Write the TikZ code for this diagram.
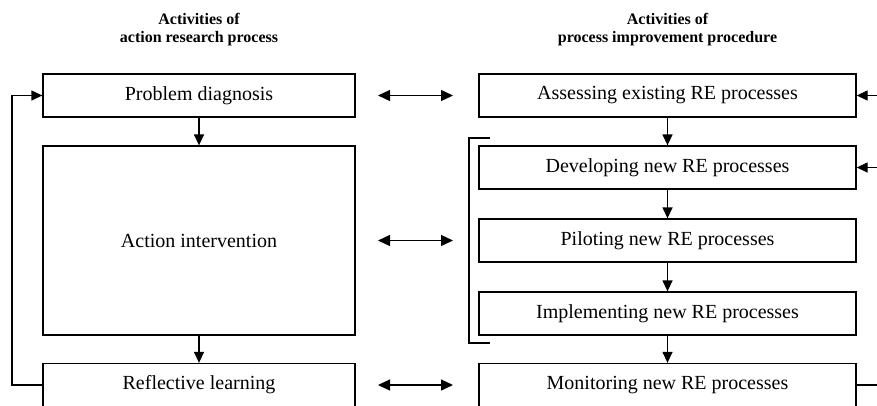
\documentclass[tikz,border=0pt]{standalone}
\usepackage{fontspec}
\setmainfont{Liberation Serif}
\usetikzlibrary{arrows.meta}
\begin{document}
\begin{tikzpicture}[x=1pt,y=-1pt,
  every node/.style={font=\fontsize{20}{24}\selectfont},
  leftbox/.style={draw,line width=1.3pt,minimum width=312pt,minimum height=43pt,inner sep=0pt},
  rightbox/.style={draw,line width=1.3pt,minimum width=377pt,minimum height=43pt,inner sep=0pt},
  heading/.style={align=center,font=\fontsize{16}{18.5}\selectfont\bfseries},
  flow/.style={line width=1.3pt,-{Triangle[length=11pt,width=10pt]}},
  link/.style={line width=1.3pt,{Triangle[length=12pt,width=11pt]}-{Triangle[length=12pt,width=11pt]}},
  plain/.style={line width=1.3pt}]
\useasboundingbox (0,0) rectangle (877,405);
\clip (0,0) rectangle (877,405);

% column headings
\node[heading] (hl) at (199,29.5) {Activities of\\action research process};
\node[heading] (hr) at (667.5,29.5) {Activities of\\process improvement procedure};

% action research activities
\node[leftbox] (pd) at (199,95.5) {Problem diagnosis};
\node[leftbox,minimum height=189pt] (ai) at (199,240.5) {Action intervention};
\node[leftbox] (rl) at (199,385) {Reflective learning};

% process improvement activities
\node[rightbox] (as) at (667.5,95.5) {Assessing existing RE processes};
\node[rightbox] (dv) at (667.5,167.5) {Developing new RE processes};
\node[rightbox] (pl) at (667.5,240.5) {Piloting new RE processes};
\node[rightbox] (im) at (667.5,313.5) {Implementing new RE processes};
\node[rightbox] (mo) at (667.5,385) {Monitoring new RE processes};

% vertical flow
\draw[flow] (pd) -- (ai);
\draw[flow] (ai) -- (rl);
\draw[flow] (as) -- (dv);
\draw[flow] (dv) -- (pl);
\draw[flow] (pl) -- (im);
\draw[flow] (im) -- (mo);

% correspondences between the two columns
\coordinate (c1a) at (378,95.5);  \coordinate (c1b) at (453,95.5);
\coordinate (c2a) at (378,240.5); \coordinate (c2b) at (453,240.5);
\coordinate (c3a) at (378,385);   \coordinate (c3b) at (453,385);
\draw[link] (c1a) -- (c1b);
\draw[link] (c2a) -- (c2b);
\draw[link] (c3a) -- (c3b);

% feedback loop on the left
\coordinate (lb) at (12,385);
\coordinate (lt) at (12,95.5);
\draw[flow] (rl.west) -- (lb) -- (lt) -- (pd.west);

% feedback entries on the right
\coordinate (r1) at (880,95.5);
\coordinate (r2) at (880,167.5);
\coordinate (r3) at (880,385);
\draw[flow] (r1) -- (as.east);
\draw[flow] (r2) -- (dv.east);
\draw[plain] (mo.east) -- (r3);

% bracket grouping development, piloting and implementation
\coordinate (bt) at (490,138);
\coordinate (btc) at (469,138);
\coordinate (bbc) at (469,343);
\coordinate (bb) at (490,343);
\draw[line width=1.2pt] (bt) -- (btc) -- (bbc) -- (bb);
\end{tikzpicture}
\end{document}
